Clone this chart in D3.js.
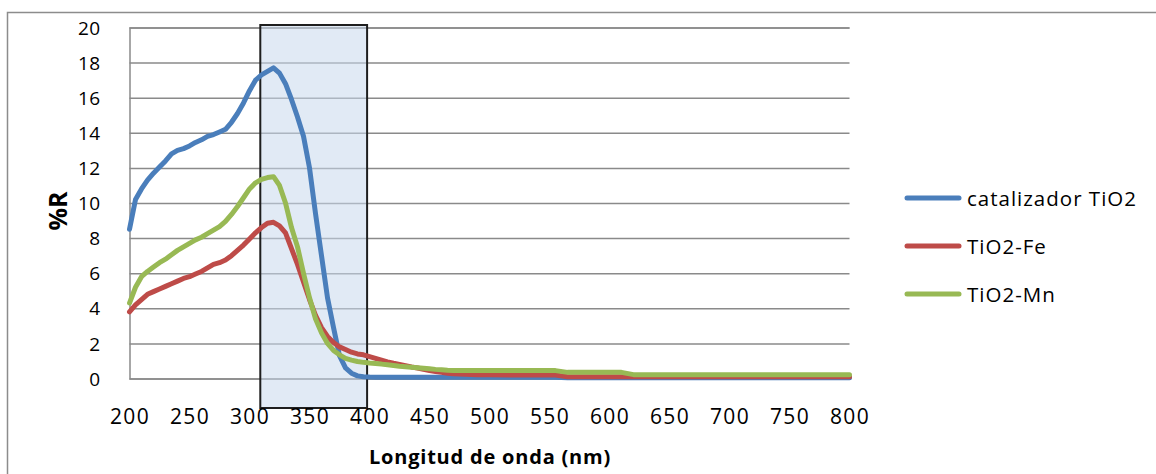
<!DOCTYPE html>
<html>
<head>
<meta charset="utf-8">
<script src="https://cdn.jsdelivr.net/npm/d3@7"></script>
<style>
  html, body { margin: 0; padding: 0; background: #fff; }
  svg { display: block; }
  text { font-family: "Open Sans", "Noto Sans", sans-serif; fill: #000; }
</style>
</head>
<body>
<svg id="chart" width="1156" height="474"></svg>
<script>
// ---------- DATA ----------
const wavelengths = [200,205,210,215,220,225,230,235,240,245,250,255,260,265,270,275,280,285,290,295,
  300,305,310,315,320,325,330,335,340,345,350,355,360,365,370,375,380,385,390,395,
  400,405,410,415,420,425,430,435,440,445,450,455,460,465,470,475,480,485,490,495,500,
  520,540,555,565,580,600,610,620,650,700,750,800];

const tio2 = [8.5,10.2,10.8,11.3,11.7,12.05,12.4,12.8,13.0,13.1,13.25,13.45,13.6,13.8,13.9,14.05,14.2,14.6,15.1,15.7,
  16.4,17.0,17.3,17.5,17.7,17.4,16.8,15.9,14.9,13.8,12.0,9.4,7.0,4.6,2.9,1.3,0.6,0.3,0.15,0.1,
  0.08,0.07,0.07,0.07,0.07,0.07,0.07,0.07,0.07,0.07,0.07,0.07,0.07,0.07,0.07,0.07,0.07,0.07,0.07,0.07,0.07,
  0.07,0.07,0.07,0.04,0.04,0.04,0.04,0.04,0.04,0.04,0.04,0.04];

const tio2Fe = [3.8,4.2,4.5,4.8,4.95,5.1,5.25,5.4,5.55,5.7,5.8,5.95,6.1,6.3,6.5,6.6,6.75,7.0,7.3,7.6,
  7.95,8.3,8.6,8.85,8.9,8.7,8.3,7.4,6.5,5.5,4.5,3.6,2.9,2.4,2.05,1.8,1.65,1.5,1.4,1.35,
  1.25,1.15,1.05,0.95,0.87,0.8,0.73,0.66,0.6,0.52,0.45,0.4,0.35,0.3,0.27,0.25,0.24,0.23,0.22,0.22,0.22,
  0.2,0.2,0.2,0.1,0.1,0.1,0.1,0.1,0.1,0.1,0.1,0.1];

const tio2Mn = [4.3,5.2,5.8,6.1,6.35,6.6,6.8,7.05,7.3,7.5,7.7,7.9,8.05,8.25,8.45,8.65,8.95,9.35,9.8,10.3,
  10.8,11.15,11.35,11.45,11.5,11.0,10.0,8.6,7.5,6.0,4.6,3.4,2.6,2.0,1.6,1.35,1.15,1.05,0.97,0.92,
  0.88,0.85,0.82,0.78,0.74,0.7,0.67,0.64,0.61,0.58,0.55,0.52,0.5,0.47,0.45,0.45,0.45,0.45,0.45,0.45,0.45,
  0.45,0.45,0.45,0.35,0.35,0.35,0.35,0.22,0.22,0.22,0.22,0.22];

const seriesNames = ["catalizador TiO2", "TiO2-Fe", "TiO2-Mn"];
const seriesColors = ["#4a7ebb", "#be4b48", "#98b954"];
const xTicks = [200,250,300,350,400,450,500,550,600,650,700,750,800];
const yTicks = [0,2,4,6,8,10,12,14,16,18,20];
const highlightRange = [309, 398];
const xTitle = "Longitud de onda (nm)";
const yTitle = "%R";

// ---------- CHART ----------
const svg = d3.select("#chart");
const plotLeft = 129.5, plotRight = 849.5, plotTop = 27.5, plotBottom = 378.5;

const x = d3.scaleLinear().domain([200, 800]).range([plotLeft, plotRight]);
const y = d3.scaleLinear().domain([0, 20]).range([plotBottom, plotTop]);

// outer frame
svg.append("rect")
  .attr("x", 7.5).attr("y", 12.5)
  .attr("width", 1300).attr("height", 600)
  .attr("fill", "#fff").attr("stroke", "#8c8c8c").attr("stroke-width", 1.5);

// gridlines
const yAxis = d3.axisLeft(y).tickValues(yTicks).tickSize(-(plotRight - plotLeft)).tickFormat(d3.format("d"));
const gy = svg.append("g").attr("transform", `translate(${plotLeft},0)`).call(yAxis);
gy.select(".domain").attr("stroke", "#8a8a8a").attr("stroke-width", 1.5);
gy.selectAll(".tick line").attr("stroke", "#8a8a8a").attr("stroke-width", 1.5);
gy.selectAll(".tick text")
  .attr("x", -29).attr("dy", "0.35em")
  .style("font-size", "19px")
  .style("letter-spacing", "0.4px")
  .attr("text-anchor", "end");

// highlight box
svg.append("rect")
  .attr("x", x(highlightRange[0]))
  .attr("y", y(20) - 2.5)
  .attr("width", x(highlightRange[1]) - x(highlightRange[0]))
  .attr("height", (y(0) + 29.5) - (y(20) - 2.5))
  .attr("fill", "#c9d8ec").attr("fill-opacity", 0.55)
  .attr("stroke", "#1e1e1e").attr("stroke-width", 2);

// x axis labels
const xAxis = d3.axisBottom(x).tickValues(xTicks).tickSize(0).tickFormat(d3.format("d"));
const gx = svg.append("g").attr("transform", `translate(0,${plotBottom})`).call(xAxis);
gx.select(".domain").remove();
gx.selectAll(".tick text")
  .attr("y", 31).attr("dy", "0.71em")
  .style("font-size", "21px")
  .style("letter-spacing", "1.4px");

// lines
const seriesData = [tio2, tio2Fe, tio2Mn];
const line = d3.line().x(d => x(d[0])).y(d => y(d[1]));
seriesData.forEach((vals, i) => {
  svg.append("path")
    .datum(wavelengths.map((w, j) => [w, vals[j]]))
    .attr("d", line)
    .attr("fill", "none")
    .attr("stroke", seriesColors[i])
    .attr("stroke-width", 5)
    .attr("stroke-linejoin", "round")
    .attr("stroke-linecap", "round");
});

// axis titles
svg.append("text")
  .attr("x", 490).attr("y", 464)
  .attr("text-anchor", "middle")
  .style("font-size", "20px").style("font-weight", "bold")
  .style("letter-spacing", "0.8px")
  .text(xTitle);

svg.append("text")
  .attr("transform", "translate(67,211) rotate(-90)")
  .attr("text-anchor", "middle")
  .style("font-size", "25px").style("font-weight", "bold")
  .text(yTitle);

// legend
const legendY = [198, 246, 294];
seriesNames.forEach((name, i) => {
  const g = svg.append("g").attr("transform", `translate(907,${legendY[i]})`);
  g.append("line").attr("x1", 0).attr("x2", 52).attr("y1", 0).attr("y2", 0)
    .attr("stroke", seriesColors[i]).attr("stroke-width", 5).attr("stroke-linecap", "round");
  g.append("text").attr("x", 60).attr("dy", "0.38em")
    .style("font-size", "20.5px")
    .style("letter-spacing", "1px")
    .text(name);
});
</script>
</body>
</html>
